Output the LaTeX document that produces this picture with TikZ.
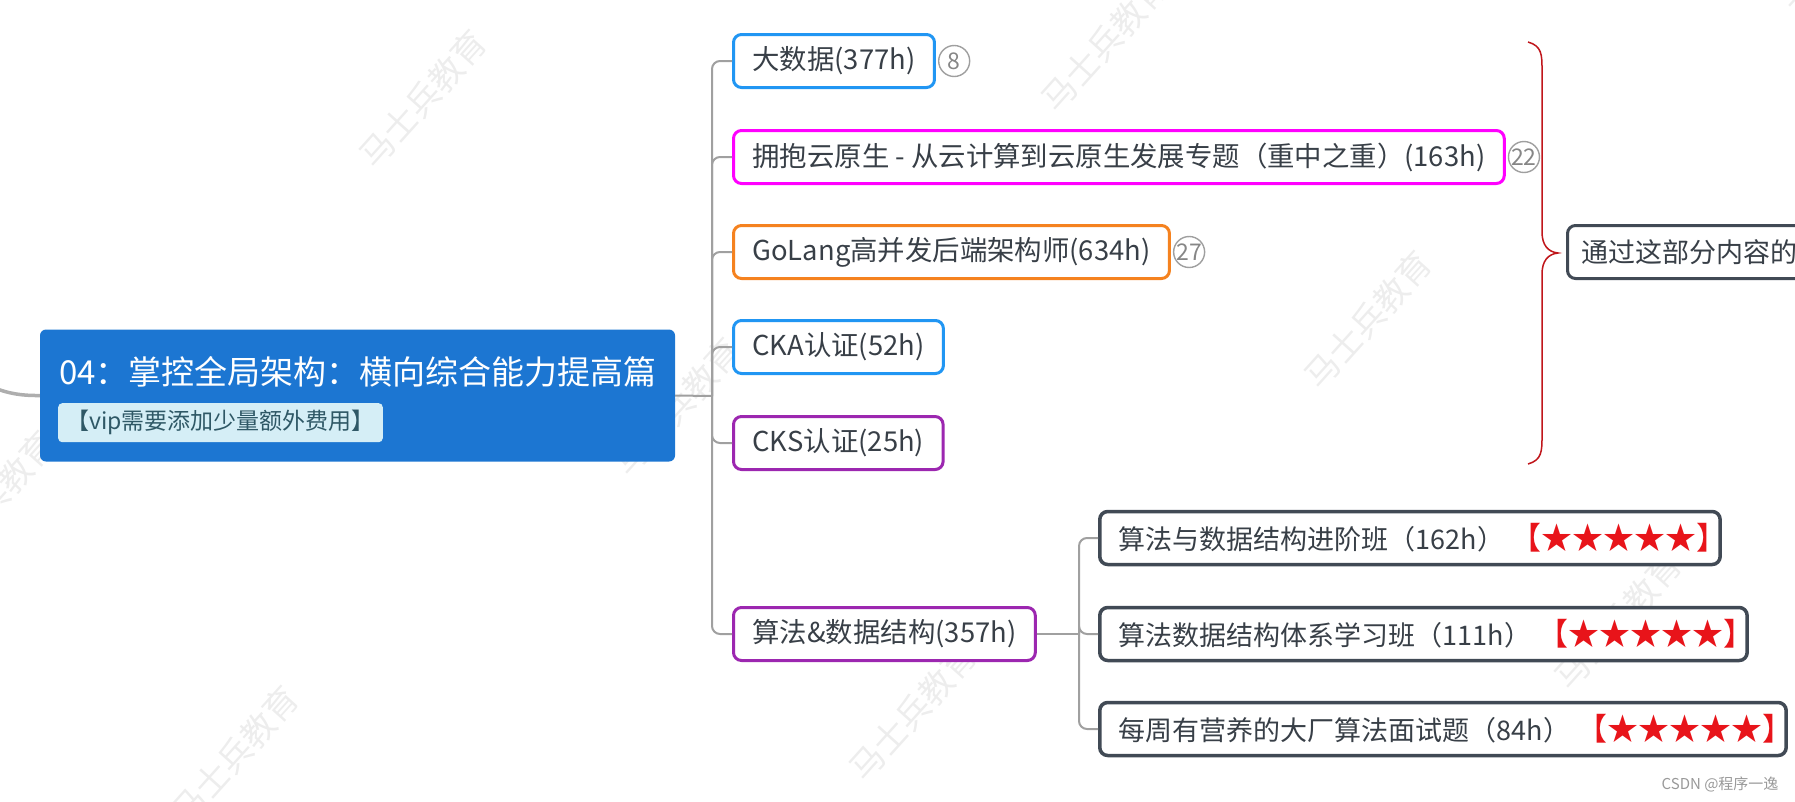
\documentclass[tikz,border=0pt]{standalone}
\usepackage{fontspec}
\setmainfont{Noto Sans CJK SC}
\usetikzlibrary{positioning}
\definecolor{txt}{HTML}{383F47}
\definecolor{mainblue}{HTML}{1C76D2}
\definecolor{subbg}{HTML}{D5EEF6}
\definecolor{subtxt}{HTML}{2F5866}
\definecolor{cblue}{HTML}{2196F3}
\definecolor{cmag}{HTML}{FF00FF}
\definecolor{corange}{HTML}{F5821F}
\definecolor{cpurple}{HTML}{9C27B0}
\definecolor{cdark}{HTML}{414A55}
\definecolor{linegray}{HTML}{A0A0A0}
\definecolor{bracered}{HTML}{C0161B}
\definecolor{starred}{HTML}{E8141A}
\definecolor{wmgray}{HTML}{EDEDED}
\newcommand{\topicfont}{\fontsize{27}{32}\selectfont}
\newcommand{\stars}{{\fontsize{31}{34}\selectfont\textcolor{starred}{【★★★★★】}}\kern-26pt}
\begin{document}
\begin{tikzpicture}[x=1pt, y=-1pt, every node/.style={text=txt},
  topic/.style={draw=#1, line width=3pt, rounded corners=8pt, fill=white, anchor=west,
    minimum height=53pt, inner xsep=19pt, font=\topicfont},
  subtopic/.style={topic=#1, font=\fontsize{27.4}{32}\selectfont},
  branch/.style={draw=linegray, line width=2pt, rounded corners=8pt},
  badge/.style={circle, draw=gray!75, line width=1.4pt, minimum size=31pt, inner sep=0pt,
    text=gray!95, font=\fontsize{23}{25}\selectfont},
  wmark/.style={text=wmgray, rotate=48, font=\fontsize{34}{40}\selectfont}]
\useasboundingbox (0,0) rectangle (1795,801);
\clip (0,0) rectangle (1795,801);
% watermarks
\foreach \x/\y [count=\i] in {423/99, 1105/43, 1368/320, 1840/-60, -8/500, 677/407, 913/712, 235/755, 1618/621}
  \node[wmark] (wm\i) at (\x,\y) {马士兵教育};
% root
\coordinate (in) at (-80,340);
\node[fill=mainblue, rounded corners=6pt, minimum width=635pt, minimum height=132pt] (main) at (357.5,395.5) {};
\draw[draw=linegray!85, line width=3.5pt] (in) .. controls (-20,385) and (0,396) .. (main.west);
\node[anchor=west, text=white, inner sep=0pt, font=\fontsize{33}{40}\selectfont] (title) at (59,372) {04：掌控全局架构：横向综合能力提高篇};
\node[anchor=north west, fill=subbg, rounded corners=4pt, text=subtxt, minimum height=39pt,
  inner xsep=8pt, inner ysep=0pt, font=\fontsize{23}{28}\selectfont] (note) at (58,403) {【vip需要添加少量额外费用】};
% topics
\node[subtopic=cblue] (bigdata) at (732,61) {大数据(377h)};
\node[subtopic=cmag] (cloud) at (732,157) {拥抱云原生 - 从云计算到云原生发展专题（重中之重）(163h)};
\node[subtopic=corange] (golang) at (732,252) {GoLang高并发后端架构师(634h)};
\node[subtopic=cblue] (cka) at (732,347) {CKA认证(52h)};
\node[subtopic=cpurple] (cks) at (732,443) {CKS认证(25h)};
\node[subtopic=cpurple] (algo) at (732,634) {算法\&数据结构(357h)};
\node[badge, right=2pt of bigdata] (n8) {8};
\node[badge, right=2pt of cloud] (n22) {22};
\node[badge, right=2pt of golang] (n27) {27};
\coordinate (fork) at (712,396);
\draw[branch] (main.east) -- (fork);
\foreach \c in {bigdata,cloud,golang,cka,cks,algo}
  \draw[branch] (fork) |- (\c.west);
% algorithm courses
\node[topic=cdark, line width=3.5pt] (adv) at (1098,538) {算法与数据结构进阶班（162h） \stars};
\node[topic=cdark, line width=3.5pt] (sys) at (1098,634) {算法数据结构体系学习班（111h） \stars};
\node[topic=cdark, line width=3.5pt] (weekly) at (1098,729) {每周有营养的大厂算法面试题（84h） \stars};
\coordinate (fork2) at (1079,634);
\draw[branch] (algo.east) -- (fork2);
\foreach \g in {adv,sys,weekly}
  \draw[branch] (fork2) |- (\g.west);
% summary brace
\draw[bracered, line width=1.5pt] (1528,42) .. controls (1542,46) and (1542,55) .. (1542,70)
  -- (1542,232) .. controls (1542,245) and (1548,252) .. (1558,253)
  .. controls (1548,254) and (1542,261) .. (1542,274)
  -- (1542,436) .. controls (1542,451) and (1542,460) .. (1528,464);
\node[topic=cdark, inner xsep=14pt] (summary) at (1566,252) {通过这部分内容的};
\node[anchor=east, text=gray!80, font=\fontsize{15}{18}\selectfont] (csdn) at (1782,784) {CSDN @程序一逸};
\end{tikzpicture}
\end{document}
